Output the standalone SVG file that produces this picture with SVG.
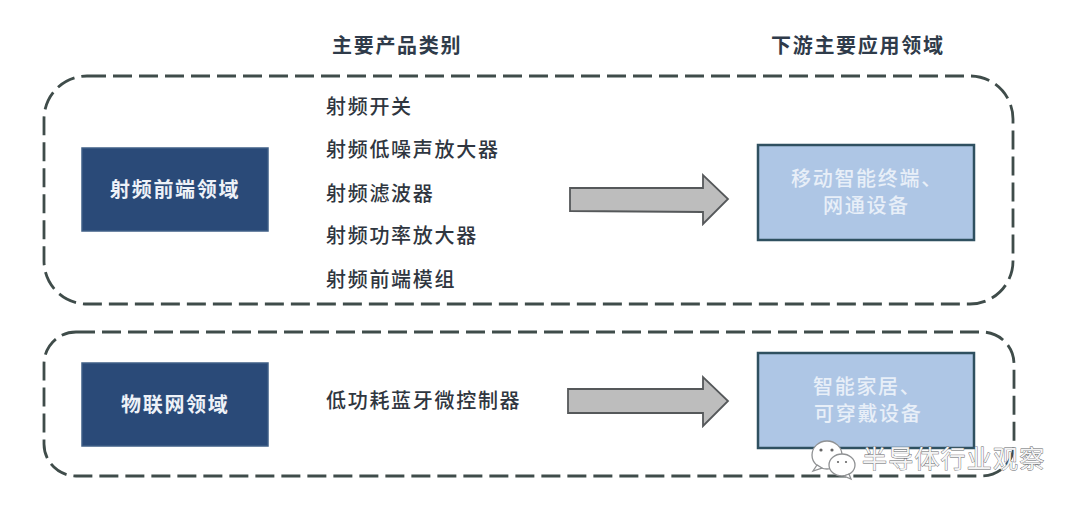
<svg xmlns="http://www.w3.org/2000/svg" width="1080" height="508" viewBox="0 0 1080 508">
<style>
text{font-family:"Noto Sans CJK SC","Noto Sans",sans-serif;font-size:20px;letter-spacing:1.7px}
.head{font-weight:700;fill:#2f3b4a}
.item{font-weight:500;fill:#2f3640}
.dark{fill:#2a4a78;stroke:#3f5f86;stroke-width:1.5}
.light{fill:#aec6e5;stroke:#2f5060;stroke-width:2.5}
.dt{fill:#eef2f8;font-weight:700}
.lt{fill:#e8eff8;font-weight:500}
.zone{fill:none;stroke:#3f4c4a;stroke-width:2.8;stroke-dasharray:19 7}
.arrow{fill:#bdbdbd;stroke:#55585a;stroke-width:1.8;stroke-linejoin:miter}
.wm{font-size:25px;letter-spacing:1.2px;fill:#f4f4f4;stroke:#5f6367;stroke-width:.8;paint-order:stroke}
.bub{fill:#fff;stroke:#8f9193;stroke-width:1.3}
.eye{fill:#666}
</style>
<rect width="1080" height="508" fill="#fff"/>
<g id="headers">
<text class="head" x="332" y="53">主要产品类别</text>
<text class="head" x="771" y="53">下游主要应用领域</text>
</g>
<g id="zones">
<rect id="zone-rf" class="zone" x="44" y="76" width="969" height="228" rx="43" ry="43"/>
<rect id="zone-iot" class="zone" x="44" y="332" width="970" height="144" rx="32" ry="32"/>
</g>
<g id="node-rf">
<rect class="dark" x="82" y="148" width="186" height="83"/>
<text class="dt" x="110" y="197">射频前端领域</text>
</g>
<g id="products-rf">
<text class="item" x="326" y="114">射频开关</text>
<text class="item" x="326" y="157">射频低噪声放大器</text>
<text class="item" x="326" y="201">射频滤波器</text>
<text class="item" x="326" y="243">射频功率放大器</text>
<text class="item" x="326" y="287">射频前端模组</text>
</g>
<g id="node-rf-app">
<rect class="light" x="758" y="145" width="216" height="95"/>
<text class="lt" x="791" y="186">移动智能终端、</text>
<text class="lt" x="823" y="213">网通设备</text>
</g>
<g id="node-iot">
<rect class="dark" x="82" y="363" width="186" height="83"/>
<text class="dt" x="121" y="412">物联网领域</text>
</g>
<g id="products-iot">
<text class="item" x="326" y="408">低功耗蓝牙微控制器</text>
</g>
<g id="node-iot-app">
<rect class="light" x="758" y="353" width="216" height="95"/>
<text class="lt" x="813" y="394">智能家居、</text>
<text class="lt" x="814" y="421">可穿戴设备</text>
</g>
<g id="connectors">
<polygon class="arrow" points="570,188 703,188 703,175 728,199 703,224 703,212 570,211"/>
<polygon class="arrow" points="568,389 703,389 703,377 728,401 703,426 703,413 568,413"/>
</g>
<g id="watermark">
<ellipse class="bub" cx="827" cy="455" rx="15" ry="14"/>
<path class="bub" d="M817 465l-4 6 9-3z"/>
<circle class="eye" cx="821" cy="450" r="1.6"/><circle class="eye" cx="832" cy="450" r="1.6"/>
<ellipse class="bub" cx="842" cy="465" rx="13" ry="11"/>
<path class="bub" d="M849 474l2 5-7-3z"/>
<circle class="eye" cx="838" cy="462" r="1.1"/><circle class="eye" cx="846" cy="462" r="1.1"/>
<text class="wm" x="862" y="468">半导体行业观察</text>
</g>
</svg>
